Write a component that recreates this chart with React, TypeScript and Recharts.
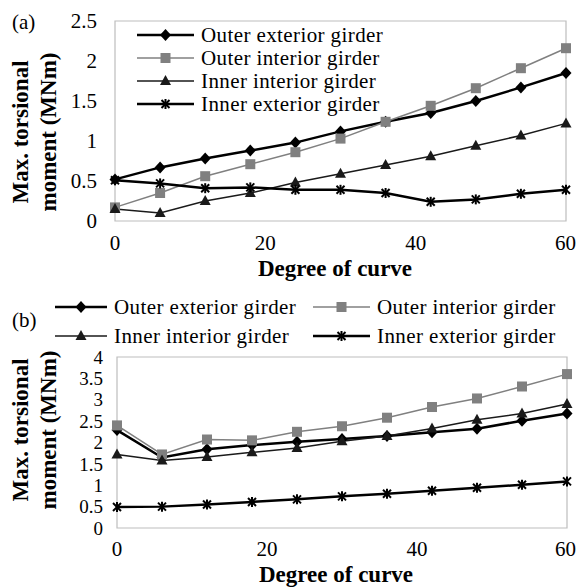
import React from 'react';
import { LineChart, Line, XAxis, YAxis, Legend, ReferenceArea } from 'recharts';

const degrees = [0, 6, 12, 18, 24, 30, 36, 42, 48, 54, 60];

// (a) max. torsional moment, MNm
const aOuterExterior = [0.52, 0.67, 0.78, 0.88, 0.98, 1.12, 1.24, 1.35, 1.5, 1.67, 1.85];
const aOuterInterior = [0.17, 0.35, 0.56, 0.71, 0.86, 1.03, 1.24, 1.44, 1.66, 1.91, 2.16];
const aInnerInterior = [0.15, 0.1, 0.25, 0.35, 0.48, 0.59, 0.7, 0.81, 0.94, 1.07, 1.22];
const aInnerExterior = [0.51, 0.47, 0.41, 0.42, 0.39, 0.39, 0.35, 0.24, 0.27, 0.34, 0.39];

// (b) max. torsional moment, MNm
const bOuterExterior = [2.29, 1.65, 1.84, 1.94, 2.02, 2.08, 2.15, 2.24, 2.32, 2.51, 2.68];
const bOuterInterior = [2.4, 1.72, 2.07, 2.05, 2.25, 2.38, 2.58, 2.83, 3.03, 3.31, 3.6];
const bInnerInterior = [1.72, 1.58, 1.66, 1.77, 1.87, 2.03, 2.15, 2.33, 2.53, 2.68, 2.9];
const bInnerExterior = [0.49, 0.5, 0.55, 0.61, 0.67, 0.74, 0.8, 0.87, 0.94, 1.01, 1.09];

const xTicks = [0, 20, 40, 60];
const aYTicks = [0, 0.5, 1, 1.5, 2, 2.5];
const bYTicks = [0, 0.5, 1, 1.5, 2, 2.5, 3, 3.5, 4];

const FONT = '"Liberation Serif", "Times New Roman", serif';

type Shape = 'diamond' | 'square' | 'triangle' | 'star';

const SERIES: { key: string; name: string; color: string; width: number; shape: Shape }[] = [
  { key: 'oe', name: 'Outer exterior girder', color: '#000000', width: 2.5, shape: 'diamond' },
  { key: 'oi', name: 'Outer interior girder', color: '#808080', width: 1.5, shape: 'square' },
  { key: 'ii', name: 'Inner interior girder', color: '#1a1a1a', width: 1.5, shape: 'triangle' },
  { key: 'ie', name: 'Inner exterior girder', color: '#000000', width: 2.5, shape: 'star' },
];

const buildRows = (oe: number[], oi: number[], ii: number[], ie: number[]) =>
  degrees.map((deg, i) => ({ deg, oe: oe[i], oi: oi[i], ii: ii[i], ie: ie[i] }));

const dataA = buildRows(aOuterExterior, aOuterInterior, aInnerInterior, aInnerExterior);
const dataB = buildRows(bOuterExterior, bOuterInterior, bInnerInterior, bInnerExterior);

function Marker({ shape, cx, cy, color }: { shape: Shape; cx: number; cy: number; color: string }) {
  if (shape === 'diamond') {
    return <polygon points={`${cx},${cy - 6} ${cx + 5.5},${cy} ${cx},${cy + 6} ${cx - 5.5},${cy}`} fill={color} />;
  }
  if (shape === 'square') {
    return <rect x={cx - 5} y={cy - 5} width={10} height={10} fill={color} />;
  }
  if (shape === 'triangle') {
    return <polygon points={`${cx},${cy - 6} ${cx + 5.5},${cy + 4} ${cx - 5.5},${cy + 4}`} fill={color} />;
  }
  return (
    <g stroke={color} strokeWidth={2}>
      <line x1={cx - 4} y1={cy - 4} x2={cx + 4} y2={cy + 4} />
      <line x1={cx - 4} y1={cy + 4} x2={cx + 4} y2={cy - 4} />
      <line x1={cx} y1={cy - 5} x2={cx} y2={cy + 5} />
    </g>
  );
}

const orderOf = (name: string) => SERIES.findIndex((s) => s.name === name);
const shapeOf = (name: string) => SERIES.find((s) => s.name === name)?.shape ?? 'diamond';
const widthOf = (name: string) => SERIES.find((s) => s.name === name)?.width ?? 2;

// keep legend entries in series order (recharts sorts them by name)
const ordered = (payload: any[] = []) => [...payload].sort((a, b) => orderOf(a.value) - orderOf(b.value));

function LegendItem({ name, color, lineLen, fontSize }: { name: string; color: string; lineLen: number; fontSize: number }) {
  return (
    <div style={{ display: 'flex', alignItems: 'center', whiteSpace: 'nowrap' }}>
      <svg width={lineLen} height={14} style={{ marginRight: 7 }}>
        <line x1={0} y1={7} x2={lineLen} y2={7} stroke={color} strokeWidth={widthOf(name)} />
        <Marker shape={shapeOf(name)} cx={lineLen / 2} cy={7} color={color} />
      </svg>
      <span style={{ fontFamily: FONT, fontSize, lineHeight: '20px', letterSpacing: 0.4, color: '#000' }}>{name}</span>
    </div>
  );
}

const legendA = (props: any) => (
  <div>
    {ordered(props.payload).map((p: any) => (
      <div key={p.value} style={{ height: 23.2, display: 'flex', alignItems: 'center' }}>
        <LegendItem name={p.value} color={p.color} lineLen={57} fontSize={21} />
      </div>
    ))}
  </div>
);

const legendB = (props: any) => (
  <div style={{ position: 'relative' }}>
    {ordered(props.payload).map((p: any, i: number) => (
      <div
        key={p.value}
        style={{ position: 'absolute', left: i % 2 === 0 ? 0 : 258, top: Math.floor(i / 2) * 29, height: 29, display: 'flex', alignItems: 'center' }}
      >
        <LegendItem name={p.value} color={p.color} lineLen={i % 2 === 0 ? 52 : 57} fontSize={21} />
      </div>
    ))}
  </div>
);

function Panel({ data, yMax, yTicks, height, margin, yWidth, yTickMargin, yFont, xTickMargin, legend, legendStyle }: any) {
  const tickStyle = { fill: '#000', fontSize: 21, fontFamily: FONT };
  return (
    <LineChart width={576} height={height} data={data} margin={margin}>
      <ReferenceArea x1={0} x2={60} y1={0} y2={yMax} fill="none" stroke="#bdbdbd" strokeWidth={1.2} />
      <XAxis
        dataKey="deg"
        type="number"
        domain={[0, 60]}
        ticks={xTicks}
        axisLine={false}
        tickLine={false}
        tickSize={0}
        tickMargin={xTickMargin}
        height={30}
        tick={tickStyle}
      />
      <YAxis
        type="number"
        domain={[0, yMax]}
        ticks={yTicks}
        axisLine={false}
        tickLine={false}
        tickSize={0}
        tickMargin={yTickMargin}
        width={yWidth}
        tick={{ ...tickStyle, fontSize: yFont }}
        interval={0}
      />
      <Legend layout="vertical" align="center" verticalAlign="middle" wrapperStyle={legendStyle} content={legend} />
      {SERIES.map((s) => (
        <Line
          key={s.key}
          type="linear"
          dataKey={s.key}
          name={s.name}
          stroke={s.color}
          strokeWidth={s.width}
          isAnimationActive={false}
          dot={(p: any) => <Marker key={`${s.key}-${p.index}`} shape={s.shape} cx={p.cx} cy={p.cy} color={s.color} />}
          activeDot={false}
        />
      ))}
    </LineChart>
  );
}

export default function App() {
  const titleStyle = { fontFamily: FONT, fontSize: 23, fontWeight: 700 as const, fill: '#000' };
  return (
    <div style={{ position: 'absolute', left: 0, top: 0, width: 576, height: 588, background: '#fff', overflow: 'hidden' }}>
      <div style={{ position: 'absolute', left: 0, top: 0 }}>
        <Panel
          data={dataA}
          yMax={2.5}
          yTicks={aYTicks}
          height={290}
          margin={{ top: 21, right: 10, left: 0, bottom: 39 }}
          yWidth={115}
          yTickMargin={18}
          yFont={21}
          xTickMargin={14}
          legend={legendA}
          legendStyle={{ position: 'absolute', left: 137, top: 23, width: 300, height: 93 }}
        />
      </div>
      <div style={{ position: 'absolute', left: 0, top: 290 }}>
        <Panel
          data={dataB}
          yMax={4}
          yTicks={bYTicks}
          height={298}
          margin={{ top: 67, right: 9, left: 0, bottom: 30 }}
          yWidth={117}
          yTickMargin={14}
          yFont={19}
          xTickMargin={13}
          legend={legendB}
          legendStyle={{ position: 'absolute', left: 55, top: 2, width: 520, height: 60 }}
        />
      </div>
      <svg width={576} height={588} style={{ position: 'absolute', left: 0, top: 0, pointerEvents: 'none' }}>
        <text x={12} y={29} fontFamily={FONT} fontSize={21} fill="#000">(a)</text>
        <text x={12} y={327} fontFamily={FONT} fontSize={21} fill="#000">(b)</text>
        <g transform="translate(20,132) rotate(-90)">
          <text textAnchor="middle" dominantBaseline="central" style={titleStyle}>Max. torsional</text>
        </g>
        <g transform="translate(48,132) rotate(-90)">
          <text textAnchor="middle" dominantBaseline="central" style={titleStyle}>moment (MNm)</text>
        </g>
        <g transform="translate(20,430) rotate(-90)">
          <text textAnchor="middle" dominantBaseline="central" style={titleStyle}>Max. torsional</text>
        </g>
        <g transform="translate(48,430) rotate(-90)">
          <text textAnchor="middle" dominantBaseline="central" style={titleStyle}>moment (MNm)</text>
        </g>
        <text x={335} y={276} textAnchor="middle" style={titleStyle}>Degree of curve</text>
        <text x={336} y={582} textAnchor="middle" style={titleStyle}>Degree of curve</text>
      </svg>
    </div>
  );
}
